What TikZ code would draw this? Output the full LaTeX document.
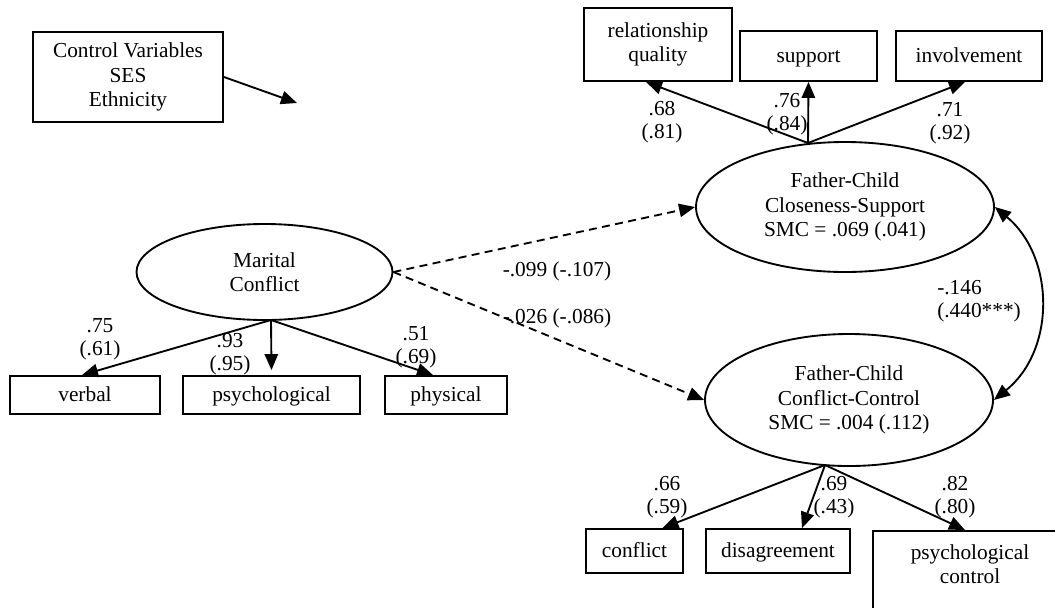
\documentclass[tikz,border=0pt]{standalone}
\usepackage{fontspec}
\setmainfont{Liberation Serif}
\usetikzlibrary{arrows.meta,shapes.geometric,calc}
\begin{document}
\begin{tikzpicture}[x=0.75pt,y=-0.75pt,
  every node/.style={font=\fontsize{16}{18.4}\selectfont, inner sep=0pt},
  box/.style={draw, line width=1.4pt, rectangle, align=center},
  sbox/.style={box, text height=12pt, text depth=3pt},
  lat/.style={draw, line width=1.4pt, ellipse, align=center},
  lbl/.style={align=center, font=\fontsize{16}{17.2}\selectfont},
  conn/.style={line width=1.4pt, -{Triangle[length=12pt,width=10pt]}},
  dconn/.style={conn, dash pattern=on 6pt off 4pt},
  dbl/.style={line width=1.4pt, {Triangle[length=12pt,width=10pt]}-{Triangle[length=12pt,width=10pt]}}
]
\path[use as bounding box] (0,0) rectangle (1055,607);
\clip (0,0) rectangle (1055,607);

% boxes
\node[box, minimum width=142.5pt, minimum height=67.5pt] (ctrl) at (128,77) {Control Variables\\SES\\Ethnicity};
\node[box, minimum width=111pt, minimum height=54.75pt] (rq) at (658,44.5) {relationship\\quality};
\node[sbox, minimum width=102.75pt, minimum height=37.5pt] (sup) at (808.5,56) {support};
\node[sbox, minimum width=109.5pt, minimum height=37.5pt] (inv) at (969,56) {involvement};
\node[sbox, minimum width=112.5pt, minimum height=28.5pt] (verbal) at (85,395) {verbal};
\node[sbox, minimum width=132.75pt, minimum height=28.5pt] (psych) at (271.5,395) {psychological};
\node[sbox, minimum width=91.5pt, minimum height=28.5pt] (phys) at (446,395) {physical};
\node[sbox, minimum width=72.75pt, minimum height=33pt] (conflict) at (634.5,551) {conflict};
\node[sbox, minimum width=108pt, minimum height=33pt] (dis) at (778,551) {disagreement};
\node[box, anchor=north, minimum width=145.5pt, inner ysep=10pt] (pc) at (970,530) {psychological\\control\\[20pt]\mbox{}};

% latent variables
\node[lat, minimum width=192pt, minimum height=72pt] (mc) at (264.5,272) {Marital\\Conflict};
\node[lat, minimum width=223.5pt, minimum height=97.5pt] (cs) at (845,207) {Father-Child\\Closeness-Support\\SMC = .069 (.041)};
\node[lat, minimum width=216pt, minimum height=99pt] (cc) at (849,400) {Father-Child\\Conflict-Control\\SMC = .004 (.112)};

% connector end points
\coordinate (ctrlend) at (297,103);
\coordinate (csb) at (808,143);
\coordinate (ccb) at (825,465);
\coordinate (mcb) at (271,320);

% connectors
\draw[conn] (ctrl.east) -- (ctrlend);
\draw[conn] (csb) -- ($(rq.south)+(-12,0)$);
\draw[conn] (csb) -- (sup.south);
\draw[conn] (csb) -- ($(inv.south)+(-4,0)$);
\draw[dconn] (mc.east) -- (cs.west);
\draw[dconn] (mc.east) -- (cc.west);
\draw[dbl] (cs.east) .. controls +(60,50) and +(62,-50) .. (cc.east);
\draw[conn] (mcb) -- ($(verbal.north)+(-3,0)$);
\draw[conn] (mcb) -- ($(psych.north)+(0,-5)$);
\draw[conn] (mcb) -- ($(phys.north)+(-13,0)$);
\draw[conn] (ccb) -- ($(conflict.north)+(28,0)$);
\draw[conn] (ccb) -- ($(dis.north)+(24,0)$);
\draw[conn] (ccb) -- ($(pc.north)+(-5,0)$);

% labels
\node[lbl] (l1) at (662,122) {.68\\(.81)};
\node[lbl] (l2) at (787,114) {.76\\(.84)};
\node[lbl] (l3) at (950,123) {.71\\(.92)};
\node[lbl] (l4) at (100,339) {.75\\(.61)};
\node[lbl] (l5) at (230,354) {.93\\(.95)};
\node[lbl] (l6) at (416,347) {.51\\(.69)};
\node[lbl] (l7) at (667,497) {.66\\(.59)};
\node[lbl] (l8) at (834,497) {.69\\(.43)};
\node[lbl] (l9) at (955,497) {.82\\(.80)};
\node[lbl, anchor=west, align=left] (l10) at (937,301) {-.146\\(.440***)};
\node[lbl] (l11) at (557,271) {-.099 (-.107)};
\node[lbl] (l12) at (557,318) {-.026 (-.086)};
\end{tikzpicture}
\end{document}
